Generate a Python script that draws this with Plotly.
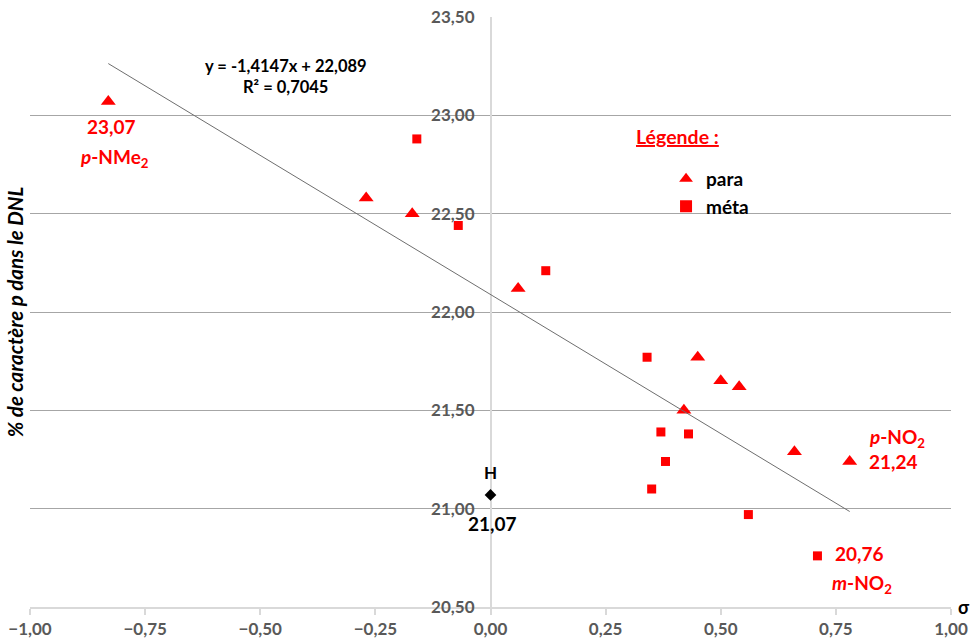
import plotly.graph_objects as go

# ---- data ----
para_x = [-0.83, -0.27, -0.17, 0.06, 0.42, 0.45, 0.50, 0.54, 0.66, 0.78]
para_y = [23.07, 22.58, 22.50, 22.12, 21.50, 21.77, 21.65, 21.62, 21.29, 21.24]
meta_x = [-0.16, -0.07, 0.12, 0.34, 0.37, 0.43, 0.38, 0.35, 0.56, 0.71]
meta_y = [22.88, 22.44, 22.21, 21.77, 21.39, 21.38, 21.24, 21.10, 20.97, 20.76]
h_x = [0.00]
h_y = [21.07]
trend_slope = -1.4147
trend_intercept = 22.089
r_squared = 0.7045
x_ticks = [-1.0, -0.75, -0.5, -0.25, 0.0, 0.25, 0.5, 0.75, 1.0]
y_ticks = [20.5, 21.0, 21.5, 22.0, 22.5, 23.0, 23.5]

RED = "#FF0000"
FONT = "Lato"

all_x = para_x + meta_x + h_x
tx = [min(all_x), max(all_x)]
ty = [trend_slope * v + trend_intercept for v in tx]

fig = go.Figure()
fig.add_trace(go.Scatter(x=para_x, y=para_y, mode="markers", name="para",
                         marker=dict(symbol="triangle-up", size=13, color=RED)))
fig.add_trace(go.Scatter(x=meta_x, y=meta_y, mode="markers", name="méta",
                         marker=dict(symbol="square", size=9, color=RED)))
fig.add_trace(go.Scatter(x=h_x, y=h_y, mode="markers", name="H", showlegend=False,
                         marker=dict(symbol="diamond", size=9, color="black")))
fig.add_trace(go.Scatter(x=tx, y=ty, mode="lines", showlegend=False,
                         line=dict(color="#6e6e6e", width=1), hoverinfo="skip"))

def fmt(v):
    return f"{v:.2f}".replace(".", ",")

ann = []
big = dict(family=FONT, size=19, color=RED)
# p-NMe2
ann.append(dict(x=para_x[0], y=para_y[0], text="<b>" + fmt(para_y[0]) + "</b>",
                showarrow=False, xshift=3, yshift=-25, font=big))
ann.append(dict(x=para_x[0], y=para_y[0], text="<b><i>p</i>-NMe<sub>2</sub></b>",
                showarrow=False, xshift=6, yshift=-56, font=big))
# p-NO2
ann.append(dict(x=para_x[-1], y=para_y[-1], text="<b><i>p</i>-NO<sub>2</sub></b>",
                showarrow=False, xshift=17, yshift=23, xanchor="left", font=big))
ann.append(dict(x=para_x[-1], y=para_y[-1], text="<b>" + fmt(para_y[-1]) + "</b>",
                showarrow=False, xshift=17, yshift=0, xanchor="left", font=big))
# m-NO2
ann.append(dict(x=meta_x[-1], y=meta_y[-1], text="<b>" + fmt(meta_y[-1]) + "</b>",
                showarrow=False, xshift=16, yshift=2, xanchor="left", font=big))
ann.append(dict(x=meta_x[-1], y=meta_y[-1], text="<b><i>m</i>-NO<sub>2</sub></b>",
                showarrow=False, xshift=13, yshift=-28, xanchor="left", font=big))
# H
ann.append(dict(x=h_x[0], y=h_y[0], text="<b>H</b>", showarrow=False, yshift=22,
                font=dict(family=FONT, size=17, color="black")))
ann.append(dict(x=h_x[0], y=h_y[0], text="<b>" + fmt(h_y[0]) + "</b>", showarrow=False,
                yshift=-29, xshift=2, font=dict(family=FONT, size=19, color="black")))
# equation
eq = f"y = {trend_slope:.4f}x + {trend_intercept:.3f}".replace(".", ",")
ann.append(dict(x=-0.445, y=23.25, text="<b>" + eq + "</b>", showarrow=False,
                font=dict(family=FONT, size=16.5, color="black")))
ann.append(dict(x=-0.445, y=23.145, text="<b>R² = " + f"{r_squared:.4f}".replace(".", ",") + "</b>",
                showarrow=False, font=dict(family=FONT, size=16.5, color="black")))
# legend title
ann.append(dict(x=0.405, y=22.89, text="<b><u>Légende :</u></b>", showarrow=False,
                font=dict(family=FONT, size=19.5, color=RED)))
# sigma
ann.append(dict(xref="paper", x=1, y=20.5, text="<b>σ</b>", showarrow=False,
                xanchor="left", xshift=5, yshift=0,
                font=dict(family=FONT, size=18, color="black")))
# y title
ann.append(dict(xref="paper", yref="paper", x=-0.016, y=0.5, xanchor="center",
                yanchor="middle",
                text="<b><i>% de caractère p dans le DNL</i></b>", textangle=-90,
                showarrow=False, font=dict(family=FONT, size=20.5, color="black")))

fig.update_layout(
    width=971, height=641,
    margin=dict(l=30, r=20, t=17, b=34, autoexpand=False),
    paper_bgcolor="white", plot_bgcolor="white",
    separators=", ",
    font=dict(family=FONT),
    annotations=ann,
    showlegend=True,
    legend=dict(x=0.6906, y=0.758, xanchor="left", yanchor="top",
                bgcolor="rgba(0,0,0,0)", itemsizing="constant",
                font=dict(family=FONT, size=19, color="black", weight="bold"),
                tracegroupgap=0),
    xaxis=dict(range=[-1, 1], tickvals=x_ticks, tickformat=".2f", automargin=False,
               showgrid=False, zeroline=True, zerolinecolor="#d9d9d9", zerolinewidth=1.5,
               showline=True, linecolor="#d9d9d9", linewidth=1.5,
               ticks="outside", ticklen=6, tickcolor="#d9d9d9", tickwidth=1.5,
               tickfont=dict(family=FONT, size=17, color="#595959", weight="bold")),
    yaxis=dict(range=[20.5, 23.5], tickvals=y_ticks, tickformat=".2f", automargin=False,
               anchor="free", position=0.5, side="left",
               showgrid=True, gridcolor="#a6a6a6", gridwidth=1, zeroline=False,
               showline=False, ticks="", ticklabelstandoff=16,
               tickfont=dict(family=FONT, size=17, color="#595959", weight="bold")),
)

fig.write_html("out.html",
               config={"displayModeBar": False},
               post_script="document.body.style.margin='0px';document.body.style.overflow='hidden';")
